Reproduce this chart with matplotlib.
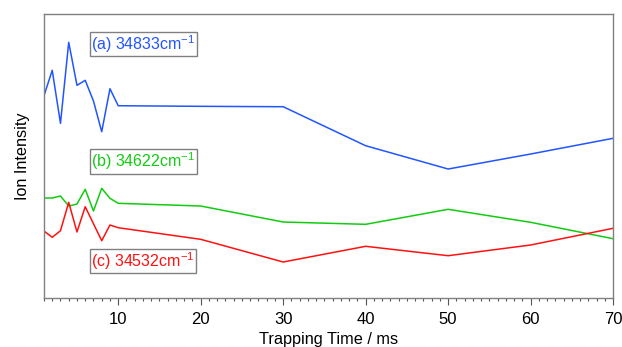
import matplotlib.pyplot as plt
from matplotlib.ticker import MultipleLocator

plt.rcParams['font.family'] = ['Liberation Sans', 'DejaVu Sans']

time = [1, 2, 3, 4, 5, 6, 7, 8, 9, 10, 20, 30, 40, 50, 60, 70]
signal_a = [20.23, 22.77, 17.47, 25.57, 21.27, 21.77, 19.7, 16.63, 20.93, 19.23,
            19.17, 19.13, 15.23, 12.9, 14.4, 15.97]
signal_b = [10.0, 10.0, 10.2, 9.2, 9.4, 10.87, 8.7, 10.97, 9.97, 9.47,
            9.2, 7.6, 7.37, 8.87, 7.57, 5.93]
signal_c = [6.7, 6.07, 6.73, 9.57, 6.6, 9.13, 7.43, 5.73, 7.3, 7.03,
            5.87, 3.6, 5.17, 4.23, 5.3, 6.97]
labels = ["(a) 34833cm$^{\\mathregular{-1}}$", "(b) 34622cm$^{\\mathregular{-1}}$",
          "(c) 34532cm$^{\\mathregular{-1}}$"]
colors = ["#2255ff", "#11cc11", "#ff1111"]

fig = plt.figure(figsize=(6.22, 3.47), dpi=100)
ax = fig.add_axes([0.0707, 0.1412, 0.915, 0.8198])

for sig, c in zip([signal_a, signal_b, signal_c], colors):
    ax.plot(time, sig, color=c, lw=1.1)

label_pos = [0.893, 0.480, 0.130]
for lab, c, yp in zip(labels, colors, label_pos):
    ax.text(0.083, yp, lab, transform=ax.transAxes, color=c, fontsize=11.5,
            va="center", ha="left",
            bbox=dict(boxstyle="square,pad=0.1", fc="white", ec="#808080", lw=1))

ax.set_xlim(1, 70)
ax.set_ylim(0, 28.45)
ax.xaxis.set_major_locator(MultipleLocator(10))
ax.xaxis.set_minor_locator(MultipleLocator(1))
ax.tick_params(axis="x", which="major", length=5, width=0.8, color="#555555",
               labelsize=12, pad=5)
ax.tick_params(axis="x", which="minor", length=2.5, width=0.8, color="#555555")
ax.set_yticks([])
for s in ax.spines.values():
    s.set_color("#808080")
    s.set_linewidth(1)

ax.set_xlabel("Trapping Time / ms", fontsize=11.7, labelpad=4)
ax.set_ylabel("Ion Intensity", fontsize=11.7, labelpad=10)

fig.savefig("out.png", dpi=100)
